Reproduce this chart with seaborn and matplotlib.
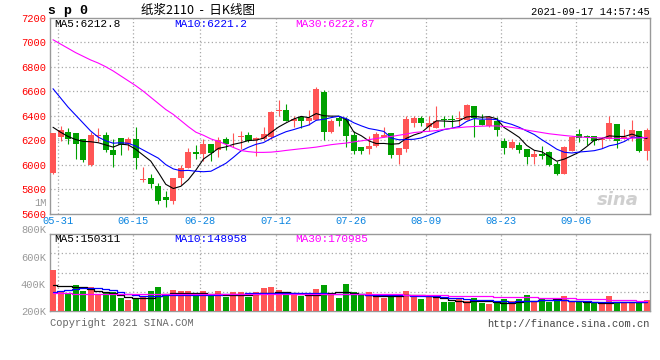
import numpy as np
import matplotlib
matplotlib.use('Agg')
import matplotlib.pyplot as plt
import seaborn as sns

# daily candles, 05-28 .. 09-17
opens = [5929, 6227, 6266, 6257, 6208, 5994, 6236, 6241, 6123, 6216,
         6167, 6208, 5875, 5888, 5825, 5737, 5701, 5888, 5975, 6101,
         6090, 6167, 6120, 6208, 6189, 6228, 6241, 6200, 6208, 6222,
         6436, 6449, 6359, 6386, 6353, 6367, 6595, 6268, 6378, 6373,
         6241, 6145, 6126, 6153, 6227, 6257, 6079, 6126, 6340, 6384,
         6304, 6299, 6375, 6375, 6370, 6364, 6479, 6364, 6318, 6359,
         6194, 6134, 6159, 6126, 6063, 6090, 6107, 6008, 5926, 6112,
         6249, 6230, 6230, 6200, 6208, 6331, 6208, 6222, 6271, 6112]
highs = [6262, 6318, 6299, 6262, 6210, 6263, 6299, 6263, 6208, 6218,
         6225, 6310, 5978, 5926, 5846, 5783, 5890, 5997, 6134, 6159,
         6208, 6170, 6222, 6222, 6257, 6271, 6268, 6222, 6310, 6436,
         6531, 6496, 6400, 6400, 6447, 6633, 6611, 6370, 6400, 6386,
         6277, 6147, 6236, 6263, 6310, 6259, 6136, 6395, 6400, 6400,
         6400, 6482, 6400, 6408, 6441, 6496, 6481, 6414, 6400, 6386,
         6216, 6208, 6181, 6128, 6118, 6153, 6109, 6030, 6153, 6236,
         6290, 6241, 6236, 6222, 6400, 6333, 6290, 6364, 6273, 6299]
lows = [5920, 6189, 6167, 6044, 6025, 5989, 6181, 6100, 5981, 6079,
        6123, 5962, 5860, 5811, 5679, 5657, 5679, 5830, 5975, 6044,
        6030, 6030, 6066, 6120, 6140, 6126, 6181, 6071, 6200, 6208,
        6400, 6359, 6310, 6296, 6326, 6365, 6203, 6257, 6318, 6140,
        6085, 6085, 6085, 6140, 6222, 6052, 6003, 6104, 6304, 6318,
        6271, 6297, 6304, 6304, 6318, 6362, 6227, 6324, 6310, 6236,
        6090, 6126, 6093, 6008, 6008, 6044, 5989, 5915, 5924, 6110,
        6181, 6159, 6159, 6134, 6206, 6134, 6206, 6189, 6104, 6038]
closes = [6257, 6282, 6208, 6167, 6036, 6241, 6241, 6120, 6079, 6159,
          6208, 6057, 5882, 5838, 5701, 5715, 5888, 5975, 6107, 6090,
          6167, 6099, 6200, 6167, 6195, 6232, 6189, 6216, 6249, 6430,
          6449, 6359, 6373, 6359, 6378, 6616, 6268, 6359, 6359, 6236,
          6112, 6112, 6153, 6249, 6241, 6079, 6134, 6373, 6384, 6340,
          6340, 6353, 6364, 6364, 6375, 6490, 6378, 6326, 6392, 6285,
          6134, 6184, 6120, 6063, 6085, 6071, 5997, 5926, 6145, 6227,
          6216, 6225, 6189, 6208, 6337, 6189, 6227, 6282, 6112, 6282]

ma5 = [6305, 6265, 6230, 6205, 6190, 6187, 6179, 6161, 6143, 6168,
       6161, 6125, 6077, 6029, 5937, 5839, 5805, 5823, 5877, 5955,
       6045, 6088, 6133, 6145, 6166, 6179, 6197, 6200, 6216, 6263,
       6307, 6341, 6372, 6394, 6384, 6417, 6399, 6396, 6396, 6368,
       6267, 6236, 6194, 6172, 6173, 6167, 6171, 6215, 6242, 6262,
       6314, 6358, 6356, 6352, 6359, 6389, 6394, 6387, 6392, 6374,
       6303, 6264, 6223, 6157, 6117, 6105, 6067, 6028, 6045, 6073,
       6102, 6148, 6200, 6213, 6235, 6230, 6230, 6249, 6229, 6213]
ma10 = [6620, 6545, 6470, 6405, 6340, 6275, 6225, 6195, 6175, 6179,
        6174, 6152, 6119, 6086, 6053, 6000, 5965, 5950, 5953, 5946,
        5942, 5946, 5978, 6011, 6060, 6112, 6142, 6166, 6180, 6214,
        6243, 6269, 6286, 6305, 6323, 6362, 6370, 6384, 6395, 6376,
        6342, 6317, 6295, 6284, 6271, 6217, 6203, 6205, 6207, 6218,
        6241, 6265, 6286, 6297, 6311, 6352, 6376, 6371, 6372, 6367,
        6346, 6329, 6305, 6275, 6246, 6204, 6166, 6126, 6101, 6095,
        6103, 6108, 6114, 6129, 6154, 6166, 6189, 6225, 6221, 6221]
ma30 = [7020, 6985, 6950, 6915, 6885, 6855, 6830, 6800, 6765, 6725,
        6685, 6645, 6600, 6550, 6500, 6450, 6410, 6360, 6310, 6265,
        6240, 6210, 6190, 6165, 6140, 6115, 6106, 6100, 6100, 6102,
        6108, 6116, 6123, 6130, 6136, 6143, 6153, 6163, 6170, 6176,
        6186, 6194, 6204, 6213, 6223, 6230, 6240, 6250, 6262, 6268,
        6272, 6278, 6288, 6296, 6302, 6308, 6311, 6314, 6316, 6316,
        6312, 6304, 6295, 6282, 6272, 6262, 6252, 6245, 6238, 6232,
        6226, 6222, 6220, 6218, 6216, 6214, 6214, 6216, 6218, 6223]

# volume in thousands
volume_k = [504, 348, 331, 393, 348, 380, 319, 331, 343, 299,
            281, 294, 306, 348, 380, 314, 356, 348, 348, 331,
            348, 314, 348, 306, 338, 338, 306, 338, 373, 380,
            356, 331, 331, 314, 314, 363, 393, 331, 299, 400,
            343, 319, 338, 306, 299, 319, 314, 348, 314, 289,
            319, 319, 264, 264, 289, 274, 294, 257, 249, 269,
            289, 274, 289, 319, 269, 299, 269, 289, 314, 274,
            274, 257, 264, 264, 314, 264, 269, 264, 264, 281]
vma5 = [393, 388, 383, 380, 380, 363, 348, 343, 336, 319,
        304, 299, 299, 299, 311, 324, 331, 331, 331, 336,
        333, 326, 324, 319, 319, 319, 321, 326, 331, 336,
        338, 338, 336, 326, 319, 319, 326, 331, 341, 343,
        336, 326, 321, 314, 314, 311, 314, 319, 319, 316,
        314, 304, 294, 282, 274, 269, 272, 274, 272, 269,
        259, 259, 269, 272, 274, 279, 282, 286, 282, 274,
        272, 269, 264, 257, 259, 264, 264, 264, 264, 264]
vma10 = [343, 348, 353, 363, 368, 370, 368, 363, 356, 338,
         323, 316, 314, 314, 314, 316, 319, 319, 319, 319,
         319, 319, 321, 323, 326, 328, 331, 331, 331, 331,
         331, 331, 331, 331, 331, 333, 333, 328, 326, 326,
         326, 323, 321, 319, 319, 319, 319, 316, 314, 314,
         311, 309, 304, 299, 294, 289, 284, 281, 279, 274,
         272, 269, 272, 274, 277, 279, 281, 281, 279, 277,
         274, 272, 269, 269, 269, 269, 269, 267, 267, 264]
vma30 = [330, 330, 330, 329, 329, 329, 328, 328, 328, 328,
         328, 328, 328, 328, 328, 328, 328, 328, 328, 328,
         328, 328, 328, 328, 328, 328, 328, 328, 328, 328,
         328, 328, 328, 328, 328, 328, 328, 327, 327, 327,
         326, 326, 326, 325, 325, 324, 323, 322, 321, 320,
         319, 317, 315, 313, 312, 311, 310, 309, 308, 306,
         305, 304, 303, 302, 301, 299, 298, 296, 294, 293,
         291, 290, 288, 286, 285, 283, 281, 279, 276, 272]

tick_idx = [1, 11, 20, 30, 40, 50, 60, 70]
tick_labels = ['05-31', '06-15', '06-28', '07-12', '07-26', '08-09', '08-23', '09-06']
price_ticks = [5600, 5800, 6000, 6200, 6400, 6600, 6800, 7000, 7200]

sns.set_theme(style='white')
plt.rcParams['font.family'] = ['Liberation Mono', 'Noto Sans CJK SC', 'DejaVu Sans']

RED = '#ff5555'
GREEN = '#00a000'
GRID = '#a8a8a8'
FRAME = '#999999'
W, H = 660, 360


def fx(px):
    return px / W


def fy(py):
    return 1 - py / H


fig = plt.figure(figsize=(6.6, 3.6), dpi=100)
ax = fig.add_axes([fx(50), fy(213.6), fx(600), (213.6 - 17.7) / H])
axv = fig.add_axes([fx(50), fy(311), fx(600), 76.7 / H])

x = np.arange(len(closes))
o = np.array(opens)
c = np.array(closes)
up = c >= o
colors = np.where(up, RED, GREEN)

# candles
ax.vlines(x, lows, highs, colors=colors, lw=0.8, zorder=3)
body = np.maximum(np.abs(c - o), 7)
ax.bar(x, body, bottom=np.minimum(o, c), width=0.8, color=colors, linewidth=0, zorder=3)

sns.lineplot(x=x, y=ma5, ax=ax, color='black', lw=0.8, zorder=4)
sns.lineplot(x=x, y=ma10, ax=ax, color='#0000ff', lw=0.8, zorder=4)
sns.lineplot(x=x, y=ma30, ax=ax, color='#ff00ff', lw=0.8, zorder=4)

# volume
axv.bar(x, volume_k, width=0.8, color=colors, linewidth=0, zorder=3)
sns.lineplot(x=x, y=vma5, ax=axv, color='black', lw=0.9, drawstyle='steps-mid', zorder=4)
sns.lineplot(x=x, y=vma10, ax=axv, color='#0000ff', lw=0.9, drawstyle='steps-mid', zorder=4)
sns.lineplot(x=x, y=vma30, ax=axv, color='#ff00ff', lw=0.9, drawstyle='steps-mid', zorder=4)

grid_x = np.array(tick_idx) - 0.4
for a in (ax, axv):
    a.set_xlim(-0.4, 79.4)
    a.set_xlabel('')
    a.set_ylabel('')
    for s in a.spines.values():
        s.set_color(FRAME)
        s.set_linewidth(1.0)
    a.tick_params(length=0)
    for gx in grid_x:
        a.axvline(gx, color=GRID, lw=0.9, ls=(0, (1, 2)), zorder=1)

ax.set_ylim(5600, 7200)
ax.set_yticks(price_ticks)
ax.set_yticklabels([str(v) for v in price_ticks], color='#ff0000', fontsize=7.5)
for v in price_ticks[1:-1]:
    ax.axhline(v, color=GRID, lw=0.9, ls=(0, (1, 2)), zorder=1)
ax.set_xticks(grid_x)
ax.set_xticklabels(tick_labels, color='#0a84e0', fontsize=7.5)
ax.tick_params(axis='y', pad=3)
ax.tick_params(axis='x', pad=2)

vlo, vhi = 200, 768
axv.set_ylim(vlo, vhi)
axv.set_yticks([200, 400, 600])
axv.set_yticklabels(['200K', '400K', '600K'], color='#999999', fontsize=7.5)
axv.tick_params(axis='y', pad=3)
axv.set_xticks([])
for f in (0.25, 0.5, 0.75):
    axv.axhline(vlo + (vhi - vlo) * f, color=GRID, lw=0.9, ls=(0, (1, 2)), zorder=1)
ytr = axv.get_yaxis_transform()
axv.text(-0.006, 800, '800K', transform=ytr, ha='right', va='center',
         color='#999999', fontsize=7.5, clip_on=False)
axv.text(-0.006, 1000, '1M', transform=ytr, ha='right', va='center',
         color='#999999', fontsize=7.5, clip_on=False)

# header texts
fig.text(fx(48), fy(11), 's p 0', fontsize=9.5, fontweight='bold', va='center', color='black')
fig.text(fx(141), fy(10), '纸浆2110  -  日K线图', fontsize=9, va='center', color='black',
         family=['Noto Sans CJK SC', 'DejaVu Sans'])
fig.text(fx(650), fy(12), '2021-09-17 14:57:45', fontsize=7.5, ha='right', va='center', color='black')

# MA captions
fig.text(fx(54), fy(24), 'MA5:6212.8', fontsize=8, va='center', color='black')
fig.text(fx(174), fy(24), 'MA10:6221.2', fontsize=8, va='center', color='#0000ff')
fig.text(fx(295), fy(24), 'MA30:6222.87', fontsize=8, va='center', color='#ff00ff')
fig.text(fx(54), fy(239), 'MA5:150311', fontsize=8, va='center', color='black')
fig.text(fx(174), fy(239), 'MA10:148958', fontsize=8, va='center', color='#0000ff')
fig.text(fx(295), fy(239), 'MA30:170985', fontsize=8, va='center', color='#ff00ff')

fig.text(fx(618), fy(200), 'sina', fontsize=13, fontstyle='italic', fontweight='bold',
         color='#cfcfcf', ha='center', va='center', family='DejaVu Sans')

fig.text(fx(50), fy(323), 'Copyright 2021 SINA.COM', fontsize=7.5, va='center', color='#666666')
fig.text(fx(650), fy(324), 'http://finance.sina.com.cn', fontsize=7.5, ha='right', va='center',
         color='#444444')

fig.savefig('out.png', dpi=100)
